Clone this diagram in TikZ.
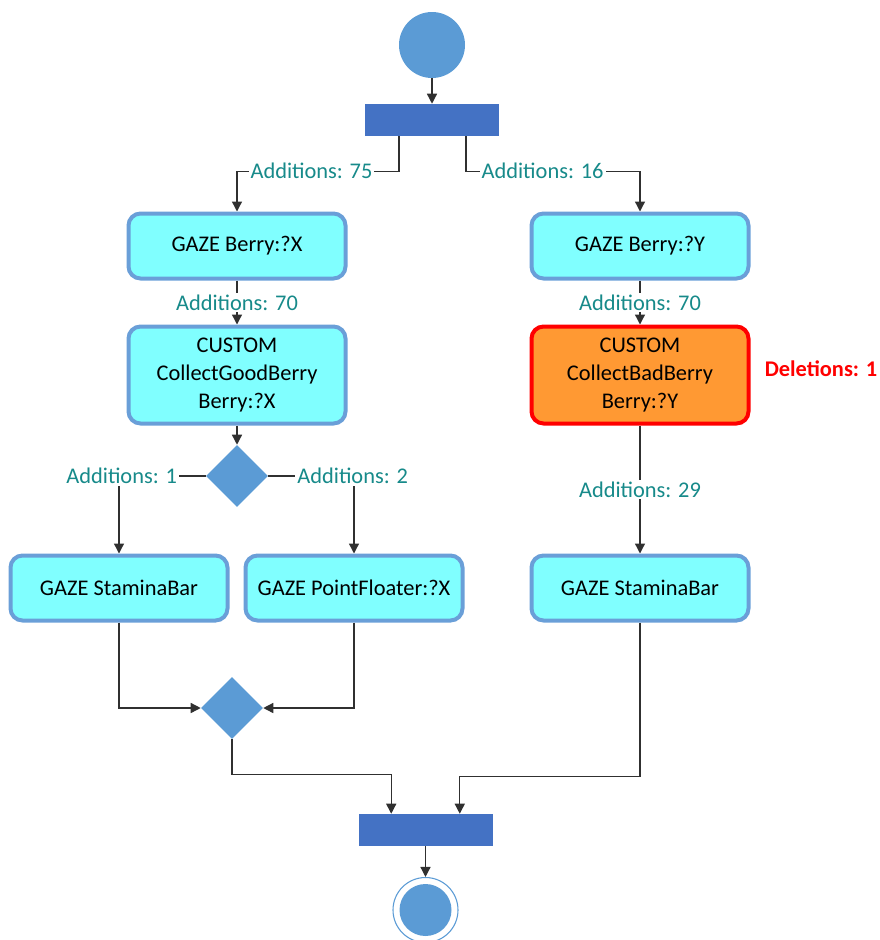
\documentclass[tikz,border=0pt]{standalone}
\usepackage{fontspec}
\setmainfont{Carlito}
\usetikzlibrary{arrows.meta,shapes.geometric,calc}

\definecolor{startblue}{HTML}{5B9BD5}
\definecolor{barblue}{HTML}{4472C4}
\definecolor{boxfill}{HTML}{80FFFF}
\definecolor{boxline}{HTML}{6A9FD8}
\definecolor{orangefill}{HTML}{FF9933}
\definecolor{alertred}{HTML}{FF0000}
\definecolor{labelteal}{HTML}{178A8A}
\definecolor{connline}{HTML}{303030}

\tikzset{
  txt/.style={font=\fontsize{16.8}{21}\selectfont},
  action/.style={txt, rectangle, rounded corners=9pt, draw=boxline, line width=3pt,
    fill=boxfill, minimum width=162.75pt, minimum height=48.75pt, align=center, inner sep=2pt},
  badaction/.style={action, draw=alertred, fill=orangefill},
  startnode/.style={circle, fill=startblue, minimum size=49.5pt, inner sep=0pt},
  syncbar/.style={rectangle, fill=barblue, minimum width=100.5pt, minimum height=24pt, inner sep=0pt},
  choice/.style={diamond, aspect=1, fill=startblue, minimum width=46.5pt, minimum height=46.5pt, inner sep=0pt},
  conn/.style={draw=connline, line width=1pt, -{Triangle[length=7.5pt,width=7.5pt]}},
  plain/.style={draw=connline, line width=1pt},
  lbl/.style={txt, text=labelteal, fill=white, inner sep=1.5pt},
}

\begin{document}
\begin{tikzpicture}[x=0.75pt, y=-0.75pt]
  \useasboundingbox (0,0) rectangle (880,940);

  % initial state and fork
  \node[startnode] (start) at (432,45) {};
  \node[syncbar] (fork) at (432,120) {};

  % left column
  \node[action] (gx)  at (237,246) {GAZE Berry:?X};
  \node[action, minimum height=72.75pt] (cgx) at (237,375) {CUSTOM\\CollectGoodBerry\\Berry:?X};
  \node[choice] (d1) at (237,476) {};
  \node[action] (sl) at (119,588) {GAZE StaminaBar};
  \node[action] (pf) at (354,588) {GAZE PointFloater:?X};
  \node[choice] (d2) at (232,708) {};

  % right column
  \node[action] (gy)  at (640,246) {GAZE Berry:?Y};
  \node[badaction, minimum height=72.75pt] (cby) at (640,375) {CUSTOM\\CollectBadBerry\\Berry:?Y};
  \node[txt, font=\fontsize{16.8}{21}\selectfont\bfseries, text=alertred] (del) at (821,369) {Deletions: 1};
  \node[action] (sr) at (640,588) {GAZE StaminaBar};

  % join and final state
  \node[syncbar] (join) at (425.5,830) {};
  \node[circle, draw=startblue, line width=0.8pt, minimum size=48.75pt, inner sep=0pt] (endc) at (425.5,910) {};
  \fill[startblue] (endc.center) circle[radius=19.5pt];

  % connectors
  \draw[conn] (start) -- (fork);
  \draw[conn] ($(fork.south)+(-33,0)$) -- ++(0,35) -| node[lbl, pos=0.27] {Additions: 75} (gx.north);
  \draw[conn] ($(fork.south)+(34,0)$) -- ++(0,35) -| node[lbl, pos=0.22] {Additions: 16} (gy.north);

  \draw[conn] (gx) -- node[lbl] {Additions: 70} (cgx);
  \draw[conn] (cgx) -- (d1);
  \draw[conn] (d1.west) -| node[lbl, pos=0.5, xshift=2pt] {Additions: 1} (sl.north);
  \draw[conn] (d1.east) -| node[lbl, pos=0.5, xshift=-1pt] {Additions: 2} (pf.north);
  \draw[conn] (sl.south) |- (d2.west);
  \draw[conn] (pf.south) |- (d2.east);
  \draw[conn] (d2.south) -- ++(0,35) -| ($(join.north west)+(33,0)$);

  \draw[conn] (gy) -- node[lbl] {Additions: 70} (cby);
  \draw[conn] (cby) -- node[lbl] {Additions: 29} (sr);
  \draw[conn] (sr.south) -- ++(0,154) -| ($(join.north east)+(-33,0)$);

  \draw[conn] (join) -- (endc);
\end{tikzpicture}
\end{document}
